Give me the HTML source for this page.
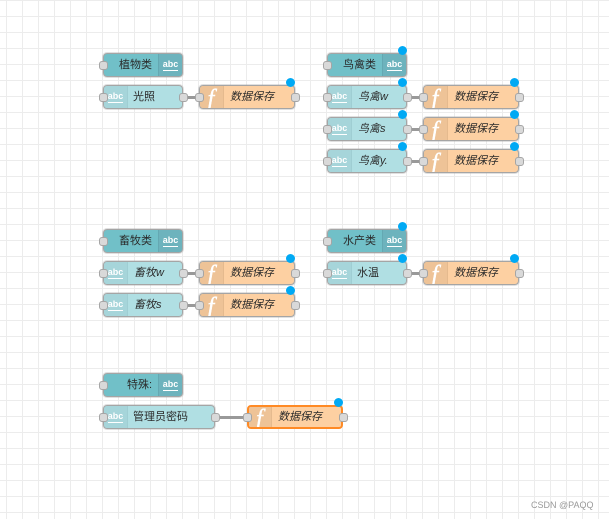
<!DOCTYPE html>
<html>
<head>
<meta charset="utf-8">
<style>
html,body{margin:0;padding:0;width:609px;height:519px;overflow:hidden;background:#fff}
#c{position:relative;width:609px;height:519px;overflow:hidden;font-family:"Liberation Sans","Noto Sans CJK SC",sans-serif;
background-color:#fff;
background-image:linear-gradient(to right,#ececec 1px,transparent 1px),linear-gradient(to bottom,#ececec 1px,transparent 1px);
background-size:16px 16px;background-position:6px 0;filter:blur(.35px)}
.n{position:absolute;height:24px;box-sizing:border-box;border:1px solid #a5a5a5;border-radius:4px;overflow:hidden}
.s{position:absolute;height:24px;box-sizing:border-box;border-radius:4px;box-shadow:0 0 0 1px rgba(165,165,165,.35)}
.i{background:#71c0c8}.t{background:#b0dfe3}.f{background:#fdd0a2}
.a{position:absolute;top:0;bottom:0;width:23px}
.i .a{right:0;background:#6db3bd;border-left:1px solid #64a8b2}
.t .a{left:0;background:#a6d5da;border-right:1px solid #9fced3}
.f .a{left:0;width:23px;background:#eec397;border-right:1px solid #e5ba8e}
.ab{position:absolute;left:0;right:0;top:4px;text-align:center;color:#fff;font:bold 9px/12px "Liberation Sans",sans-serif}
.ab:after{content:"";position:absolute;left:4px;right:4px;top:12px;height:1px;background:#fff}
.fx{position:absolute;left:-1px;right:0;top:0;text-align:center;color:#fff;font:italic 24px/26px "Liberation Serif",serif;-webkit-text-stroke:.4px #fff}
.l{position:absolute;white-space:nowrap;font-size:11px;line-height:24px;height:24px;color:#2b2b2b}
.e{font-style:italic}
.p{position:absolute;width:9px;height:9px;box-sizing:border-box;background:#d9d9d9;border:1px solid #a5a5a5;border-radius:3px}
.d{position:absolute;width:9px;height:9px;border-radius:50%;background:#00a9f4}
.w{position:absolute;height:3px;background:#999}
.m{position:absolute;left:531px;top:499px;font-size:9px;line-height:12px;color:#999;white-space:nowrap}
</style>
</head>
<body>
<div id="c">
<!-- wires -->
<div class="w" style="left:183px;top:96px;width:16px"></div>
<div class="w" style="left:407px;top:96px;width:16px"></div>
<div class="w" style="left:407px;top:128px;width:16px"></div>
<div class="w" style="left:407px;top:160px;width:16px"></div>
<div class="w" style="left:183px;top:272px;width:16px"></div>
<div class="w" style="left:183px;top:304px;width:16px"></div>
<div class="w" style="left:407px;top:272px;width:16px"></div>
<div class="w" style="left:215px;top:416px;width:32px"></div>

<!-- group 1 -->
<div class="s" style="left:103px;top:53px;width:80px"></div><div class="n i" style="left:103px;top:53px;width:80px"><div class="a"><div class="ab">abc</div></div></div>
<div class="l" style="left:119px;top:53px">植物类</div>
<div class="p" style="left:99px;top:61px"></div>

<div class="s" style="left:103px;top:85px;width:80px"></div><div class="n t" style="left:103px;top:85px;width:80px"><div class="a"><div class="ab">abc</div></div></div>
<div class="l" style="left:133px;top:85px">光照</div>
<div class="p" style="left:99px;top:93px"></div><div class="p" style="left:179px;top:93px"></div>

<div class="s" style="left:199px;top:85px;width:96px"></div><div class="n f" style="left:199px;top:85px;width:96px"><div class="a"><div class="fx">f</div></div></div>
<div class="l e" style="left:230px;top:85px">数据保存</div>
<div class="p" style="left:195px;top:93px"></div><div class="p" style="left:291px;top:93px"></div>
<div class="d" style="left:286px;top:78px"></div>

<!-- group 2 -->
<div class="s" style="left:327px;top:53px;width:80px"></div><div class="n i" style="left:327px;top:53px;width:80px"><div class="a"><div class="ab">abc</div></div></div>
<div class="l" style="left:343px;top:53px">鸟禽类</div>
<div class="p" style="left:323px;top:61px"></div>
<div class="d" style="left:398px;top:46px"></div>

<div class="s" style="left:327px;top:85px;width:80px"></div><div class="n t" style="left:327px;top:85px;width:80px"><div class="a"><div class="ab">abc</div></div></div>
<div class="l e" style="left:358px;top:85px">鸟禽w</div>
<div class="p" style="left:323px;top:93px"></div><div class="p" style="left:403px;top:93px"></div>
<div class="d" style="left:398px;top:78px"></div>
<div class="s" style="left:423px;top:85px;width:96px"></div><div class="n f" style="left:423px;top:85px;width:96px"><div class="a"><div class="fx">f</div></div></div>
<div class="l e" style="left:454px;top:85px">数据保存</div>
<div class="p" style="left:419px;top:93px"></div><div class="p" style="left:515px;top:93px"></div>
<div class="d" style="left:510px;top:78px"></div>

<div class="s" style="left:327px;top:117px;width:80px"></div><div class="n t" style="left:327px;top:117px;width:80px"><div class="a"><div class="ab">abc</div></div></div>
<div class="l e" style="left:358px;top:117px">鸟禽s</div>
<div class="p" style="left:323px;top:125px"></div><div class="p" style="left:403px;top:125px"></div>
<div class="d" style="left:398px;top:110px"></div>
<div class="s" style="left:423px;top:117px;width:96px"></div><div class="n f" style="left:423px;top:117px;width:96px"><div class="a"><div class="fx">f</div></div></div>
<div class="l e" style="left:454px;top:117px">数据保存</div>
<div class="p" style="left:419px;top:125px"></div><div class="p" style="left:515px;top:125px"></div>
<div class="d" style="left:510px;top:110px"></div>

<div class="s" style="left:327px;top:149px;width:80px"></div><div class="n t" style="left:327px;top:149px;width:80px"><div class="a"><div class="ab">abc</div></div></div>
<div class="l e" style="left:358px;top:149px">鸟禽y.</div>
<div class="p" style="left:323px;top:157px"></div><div class="p" style="left:403px;top:157px"></div>
<div class="d" style="left:398px;top:142px"></div>
<div class="s" style="left:423px;top:149px;width:96px"></div><div class="n f" style="left:423px;top:149px;width:96px"><div class="a"><div class="fx">f</div></div></div>
<div class="l e" style="left:454px;top:149px">数据保存</div>
<div class="p" style="left:419px;top:157px"></div><div class="p" style="left:515px;top:157px"></div>
<div class="d" style="left:510px;top:142px"></div>

<!-- group 3 -->
<div class="s" style="left:103px;top:229px;width:80px"></div><div class="n i" style="left:103px;top:229px;width:80px"><div class="a"><div class="ab">abc</div></div></div>
<div class="l" style="left:119px;top:229px">畜牧类</div>
<div class="p" style="left:99px;top:237px"></div>

<div class="s" style="left:103px;top:261px;width:80px"></div><div class="n t" style="left:103px;top:261px;width:80px"><div class="a"><div class="ab">abc</div></div></div>
<div class="l e" style="left:134px;top:261px">畜牧w</div>
<div class="p" style="left:99px;top:269px"></div><div class="p" style="left:179px;top:269px"></div>
<div class="s" style="left:199px;top:261px;width:96px"></div><div class="n f" style="left:199px;top:261px;width:96px"><div class="a"><div class="fx">f</div></div></div>
<div class="l e" style="left:230px;top:261px">数据保存</div>
<div class="p" style="left:195px;top:269px"></div><div class="p" style="left:291px;top:269px"></div>
<div class="d" style="left:286px;top:254px"></div>

<div class="s" style="left:103px;top:293px;width:80px"></div><div class="n t" style="left:103px;top:293px;width:80px"><div class="a"><div class="ab">abc</div></div></div>
<div class="l e" style="left:134px;top:293px">畜牧s</div>
<div class="p" style="left:99px;top:301px"></div><div class="p" style="left:179px;top:301px"></div>
<div class="s" style="left:199px;top:293px;width:96px"></div><div class="n f" style="left:199px;top:293px;width:96px"><div class="a"><div class="fx">f</div></div></div>
<div class="l e" style="left:230px;top:293px">数据保存</div>
<div class="p" style="left:195px;top:301px"></div><div class="p" style="left:291px;top:301px"></div>
<div class="d" style="left:286px;top:286px"></div>

<!-- group 4 -->
<div class="s" style="left:327px;top:229px;width:80px"></div><div class="n i" style="left:327px;top:229px;width:80px"><div class="a"><div class="ab">abc</div></div></div>
<div class="l" style="left:343px;top:229px">水产类</div>
<div class="p" style="left:323px;top:237px"></div>
<div class="d" style="left:398px;top:222px"></div>

<div class="s" style="left:327px;top:261px;width:80px"></div><div class="n t" style="left:327px;top:261px;width:80px"><div class="a"><div class="ab">abc</div></div></div>
<div class="l" style="left:357px;top:261px">水温</div>
<div class="p" style="left:323px;top:269px"></div><div class="p" style="left:403px;top:269px"></div>
<div class="d" style="left:398px;top:254px"></div>
<div class="s" style="left:423px;top:261px;width:96px"></div><div class="n f" style="left:423px;top:261px;width:96px"><div class="a"><div class="fx">f</div></div></div>
<div class="l e" style="left:454px;top:261px">数据保存</div>
<div class="p" style="left:419px;top:269px"></div><div class="p" style="left:515px;top:269px"></div>
<div class="d" style="left:510px;top:254px"></div>

<!-- group 5 -->
<div class="s" style="left:103px;top:373px;width:80px"></div><div class="n i" style="left:103px;top:373px;width:80px"><div class="a"><div class="ab">abc</div></div></div>
<div class="l" style="left:127px;top:373px">特殊:</div>
<div class="p" style="left:99px;top:381px"></div>

<div class="s" style="left:103px;top:405px;width:112px"></div><div class="n t" style="left:103px;top:405px;width:112px"><div class="a"><div class="ab">abc</div></div></div>
<div class="l" style="left:133px;top:405px">管理员密码</div>
<div class="p" style="left:99px;top:413px"></div><div class="p" style="left:211px;top:413px"></div>

<div class="n f" style="left:247px;top:405px;width:96px;border:2px solid #ff8a25"><div class="a" style="width:22px"><div class="fx" style="top:-1px">f</div></div></div>
<div class="l e" style="left:278px;top:405px">数据保存</div>
<div class="p" style="left:243px;top:413px"></div><div class="p" style="left:339px;top:413px"></div>
<div class="d" style="left:334px;top:398px"></div>

<div class="m">CSDN @PAQQ</div>
</div>
</body>
</html>
